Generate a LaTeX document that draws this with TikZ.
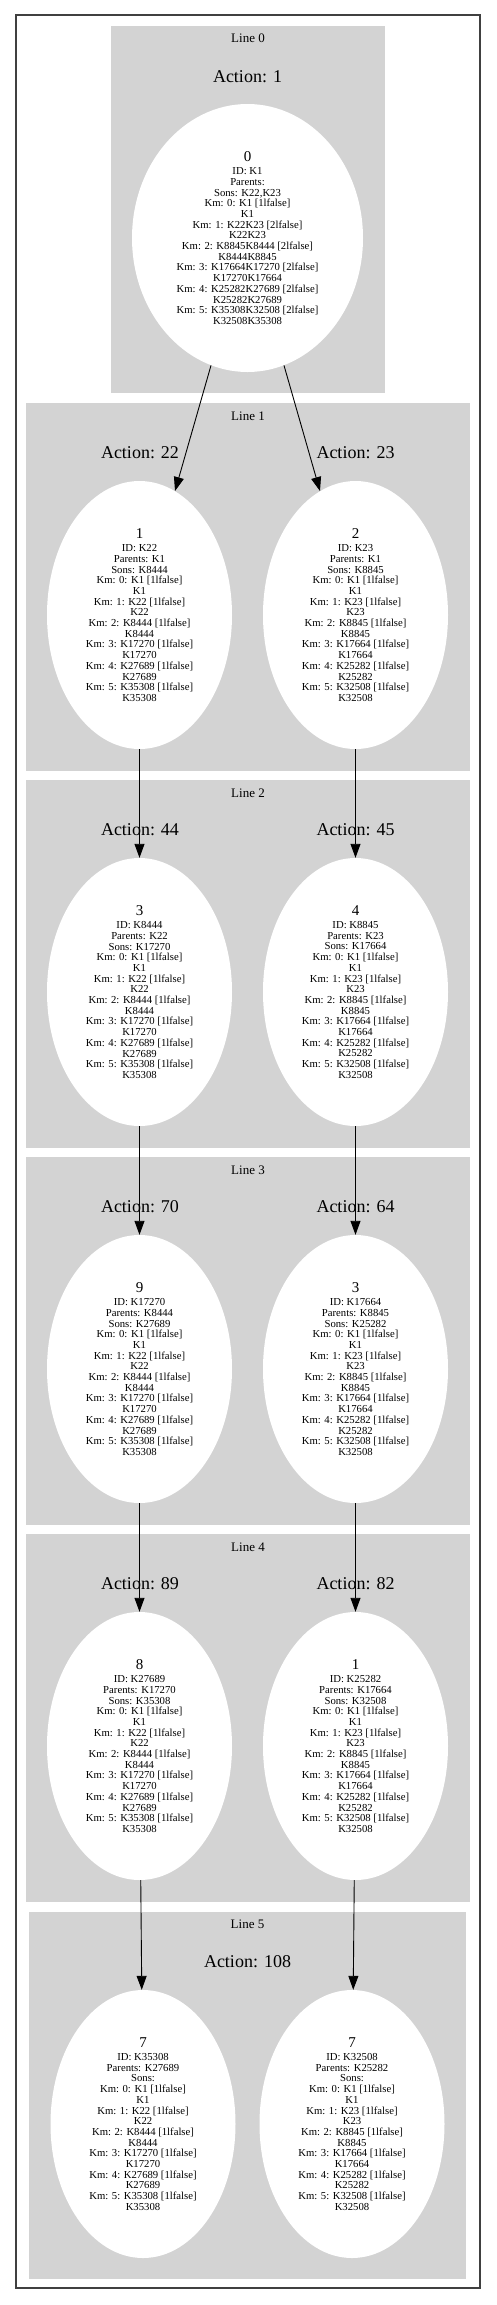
\documentclass[tikz,border=0pt]{standalone}
\usepackage{fontspec}
\setmainfont{Liberation Serif}
\usetikzlibrary{arrows.meta,shapes.geometric}
\definecolor{clgray}{HTML}{D3D3D3}
\definecolor{framegray}{HTML}{404040}
\newcommand{\kmleft}{Km: 0: K1 [1lfalse]\\ K1\\ Km: 1: K22 [1lfalse]\\ K22\\
  Km: 2: K8444 [1lfalse]\\ K8444\\ Km: 3: K17270 [1lfalse]\\ K17270\\
  Km: 4: K27689 [1lfalse]\\ K27689\\ Km: 5: K35308 [1lfalse]\\ K35308}
\newcommand{\kmright}{Km: 0: K1 [1lfalse]\\ K1\\ Km: 1: K23 [1lfalse]\\ K23\\
  Km: 2: K8845 [1lfalse]\\ K8845\\ Km: 3: K17664 [1lfalse]\\ K17664\\
  Km: 4: K25282 [1lfalse]\\ K25282\\ Km: 5: K32508 [1lfalse]\\ K32508}
\newcommand{\kmroot}{Km: 0: K1 [1lfalse]\\ K1\\ Km: 1: K22K23 [2lfalse]\\ K22K23\\
  Km: 2: K8845K8444 [2lfalse]\\ K8444K8845\\ Km: 3: K17664K17270 [2lfalse]\\ K17270K17664\\
  Km: 4: K25282K27689 [2lfalse]\\ K25282K27689\\ Km: 5: K35308K32508 [2lfalse]\\ K32508K35308}
\newcommand{\statetext}[5]{{\fontsize{15}{15}\selectfont #1}\\[2.5pt]
  ID: #2\\ Parents: #3\\ Sons: #4\\ #5}

\begin{document}
\begin{tikzpicture}[x=1pt, y=-1pt,
  cluster/.style={fill=clgray},
  linelab/.style={font=\fontsize{13}{13}\selectfont},
  actlab/.style={font=\fontsize{18}{18}\selectfont},
  state/.style={ellipse, fill=white, inner sep=0pt, minimum width=185pt,
    minimum height=268pt, align=center, font=\fontsize{10.7}{10.7}\selectfont},
  trans/.style={-{Triangle[length=14pt,width=10pt]}, line width=0.9pt}]
\useasboundingbox (0,0) rectangle (496,2305);
% ----- frame and line clusters -----
\draw[framegray, line width=1.6pt] (16,15) rectangle (480,2288);
\fill[cluster] (111,26) rectangle (385,393);
\node[linelab] (line0) at (248,38) {Line 0};
\foreach \k in {1,...,4}{
  \fill[cluster] (26,{403+377*(\k-1)}) rectangle +(444,368);
  \node[linelab] (line\k) at (248,{416+377*(\k-1)}) {Line \k};
}
\fill[cluster] (29,1912) rectangle (466,2279);
\node[linelab] (line5) at (247.5,1924) {Line 5};
% ----- action labels -----
\node[actlab] (act0) at (247.5,77) {Action: 1};
\foreach \k/\la/\ra in {1/22/23, 2/44/45, 3/70/64, 4/89/82}{
  \node[actlab] (actl\k) at (140,{453+377*(\k-1)}) {Action: \la};
  \node[actlab] (actr\k) at (355.5,{453+377*(\k-1)}) {Action: \ra};
}
\node[actlab] (act5) at (247.5,1962) {Action: 108};
% ----- states -----
\node[state, minimum width=231pt] (k1) at (247.5,238)
  {\statetext{0}{K1}{}{K22,K23}{\kmroot}};
\node[state] (k22) at (139.5,615) {\statetext{1}{K22}{K1}{K8444}{\kmleft}};
\node[state] (k23) at (355.5,615) {\statetext{2}{K23}{K1}{K8845}{\kmright}};
\node[state] (k8444) at (139.5,992) {\statetext{3}{K8444}{K22}{K17270}{\kmleft}};
\node[state] (k8845) at (355.5,992) {\statetext{4}{K8845}{K23}{K17664}{\kmright}};
\node[state] (k17270) at (139.5,1369) {\statetext{9}{K17270}{K8444}{K27689}{\kmleft}};
\node[state] (k17664) at (355.5,1369) {\statetext{3}{K17664}{K8845}{K25282}{\kmright}};
\node[state] (k27689) at (139.5,1746) {\statetext{8}{K27689}{K17270}{K35308}{\kmleft}};
\node[state] (k25282) at (355.5,1746) {\statetext{1}{K25282}{K17664}{K32508}{\kmright}};
\node[state] (k35308) at (143,2124) {\statetext{7}{K35308}{K27689}{}{\kmleft}};
\node[state] (k32508) at (352,2124) {\statetext{7}{K32508}{K25282}{}{\kmright}};
% ----- transitions -----
\foreach \a/\b in {k1/k22, k1/k23, k22/k8444, k23/k8845, k8444/k17270,
    k8845/k17664, k17270/k27689, k17664/k25282, k27689/k35308, k25282/k32508}
  \draw[trans] (\a) -- (\b);
\end{tikzpicture}
\end{document}
